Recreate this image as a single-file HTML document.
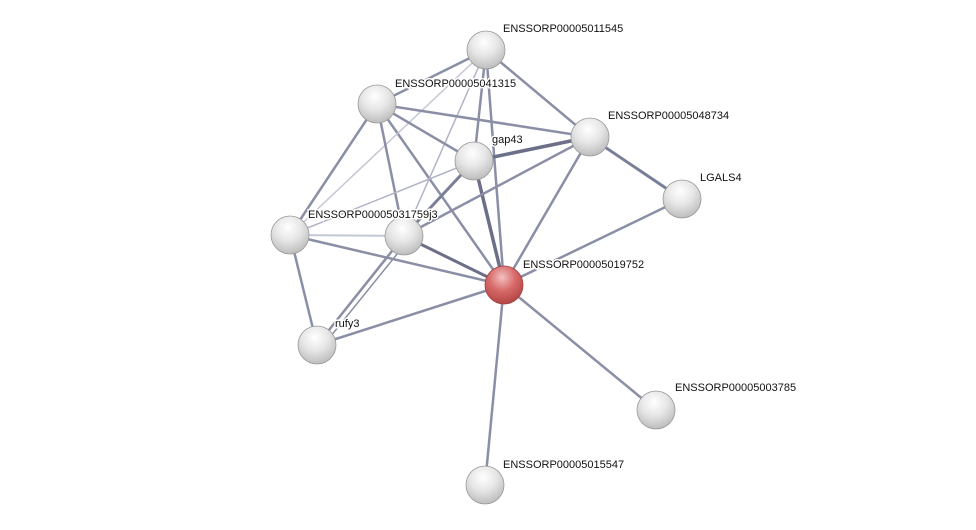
<!DOCTYPE html>
<html><head><style>body{margin:0;background:#fff}svg{display:block}</style></head>
<body>
<svg width="976" height="530" xmlns="http://www.w3.org/2000/svg" font-family="Liberation Sans, sans-serif" font-size="11">
<defs>
<radialGradient id="g" cx="45%" cy="30%" r="70%"><stop offset="0" stop-color="#ffffff"/><stop offset="0.5" stop-color="#e6e6e6"/><stop offset="1" stop-color="#bdbdbd"/></radialGradient>
<radialGradient id="r" cx="45%" cy="30%" r="70%"><stop offset="0" stop-color="#f3c0c0"/><stop offset="0.5" stop-color="#d86a6a"/><stop offset="1" stop-color="#b34545"/></radialGradient>
</defs>
<g stroke="#8a8fa6" stroke-width="2.5" fill="none">
<line x1="504" y1="285" x2="486" y2="50"/>
<line x1="504" y1="285" x2="377" y2="104"/>
<line x1="504" y1="285" x2="590" y2="137"/>
<line x1="504" y1="285" x2="474" y2="161" stroke="#6b7088" stroke-width="3.5"/>
<line x1="504" y1="285" x2="682" y2="199"/>
<line x1="504" y1="285" x2="290" y2="235"/>
<line x1="504" y1="285" x2="404" y2="236" stroke="#6b7088" stroke-width="3"/>
<line x1="504" y1="285" x2="317" y2="345"/>
<line x1="504" y1="285" x2="656" y2="410"/>
<line x1="504" y1="285" x2="485" y2="485"/>
<line x1="486" y1="50" x2="377" y2="104"/>
<line x1="486" y1="50" x2="590" y2="137"/>
<line x1="486" y1="50" x2="474" y2="161"/>
<line x1="486" y1="50" x2="290" y2="235" stroke="#c4c7d4" stroke-width="1.5"/>
<line x1="486" y1="50" x2="404" y2="236" stroke="#b0b4c6" stroke-width="1.5"/>
<line x1="377" y1="104" x2="590" y2="137"/>
<line x1="377" y1="104" x2="474" y2="161"/>
<line x1="377" y1="104" x2="290" y2="235"/>
<line x1="377" y1="104" x2="404" y2="236"/>
<line x1="590" y1="137" x2="474" y2="161" stroke="#6b7088" stroke-width="3.5"/>
<line x1="590" y1="137" x2="682" y2="199" stroke="#7a7f98" stroke-width="3"/>
<line x1="590" y1="137" x2="404" y2="236"/>
<line x1="474" y1="161" x2="290" y2="235" stroke="#b0b4c6" stroke-width="1.5"/>
<line x1="474" y1="161" x2="404" y2="236" stroke="#7a7f98" stroke-width="3"/>
<line x1="290" y1="235" x2="404" y2="236" stroke="#c4c7d4" stroke-width="2"/>
<line x1="290" y1="235" x2="317" y2="345"/>
<line x1="404" y1="236" x2="317" y2="345"/>
<line x1="410" y1="238" x2="322" y2="347" stroke-width="1.5"/>
</g>
<g stroke="#999" stroke-width="0.8">
<circle cx="486" cy="50" r="19" fill="url(#g)"/>
<circle cx="377" cy="104" r="19" fill="url(#g)"/>
<circle cx="590" cy="137" r="19" fill="url(#g)"/>
<circle cx="474" cy="161" r="19" fill="url(#g)"/>
<circle cx="682" cy="199" r="19" fill="url(#g)"/>
<circle cx="290" cy="235" r="19" fill="url(#g)"/>
<circle cx="404" cy="236" r="19" fill="url(#g)"/>
<circle cx="317" cy="345" r="19" fill="url(#g)"/>
<circle cx="656" cy="410" r="19" fill="url(#g)"/>
<circle cx="485" cy="485" r="19" fill="url(#g)"/>
<circle cx="504" cy="285" r="19" fill="url(#r)" stroke="#a04040"/>
</g>
<g fill="#111" stroke="#fff" stroke-width="3" paint-order="stroke">
<text x="503" y="32">ENSSORP00005011545</text>
<text x="395" y="87">ENSSORP00005041315</text>
<text x="608" y="119">ENSSORP00005048734</text>
<text x="492" y="143">gap43</text>
<text x="700" y="181">LGALS4</text>
<text x="308" y="218">ENSSORP00005031759j3</text>
<text x="523" y="268">ENSSORP00005019752</text>
<text x="335" y="327">rufy3</text>
<text x="675" y="391">ENSSORP00005003785</text>
<text x="503" y="468">ENSSORP00005015547</text>
</g>
</svg>
</body></html>
